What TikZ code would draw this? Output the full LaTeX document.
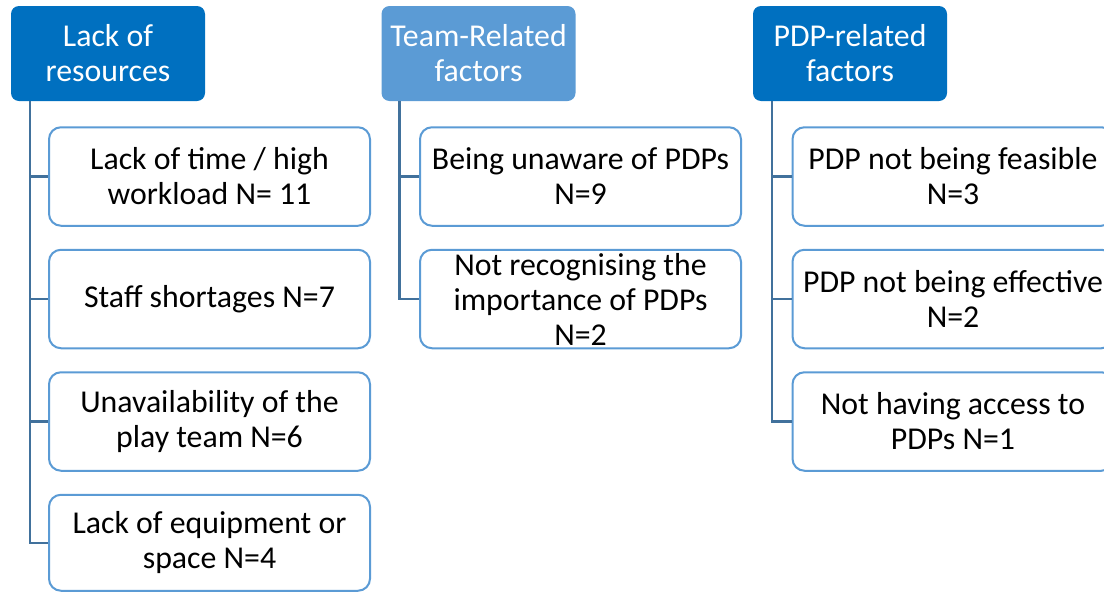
\documentclass[tikz,border=0pt]{standalone}
\usepackage{fontspec}
\setmainfont{Carlito}
\usepackage{tikz}
\usetikzlibrary{positioning}
\definecolor{hdrblue}{RGB}{0,112,192}
\definecolor{hdrlight}{RGB}{91,155,213}
\definecolor{boxline}{RGB}{91,155,213}
\definecolor{linkblue}{RGB}{65,113,156}

\begin{document}
\begin{tikzpicture}[x=1pt, y=1pt, node distance=22pt]
\tikzstyle{header} = [rectangle, rounded corners=8pt, minimum width=194pt, minimum height=95pt, inner sep=1pt, text centered, align=center, fill=hdrblue, text=white, font=\fontsize{31.8}{35}\selectfont]
\tikzstyle{factor} = [rectangle, rounded corners=12pt, minimum width=321pt, minimum height=98.5pt, inner sep=1pt, text centered, align=center, draw=boxline, line width=2pt, fill=white, font=\fontsize{31.8}{35}\selectfont]
\tikzstyle{link} = [draw=linkblue, line width=2.5pt]

\useasboundingbox (0,0) rectangle (1104,-592);

% lack of resources
\node (Resources) [header] at (108,-53.5) {Lack of\\resources};
\node (Time) [factor] at (209.5,-176.5) {Lack of time / high\\workload N= 11};
\node (Staff) [factor, below=of Time] {Staff shortages N=7};
\node (PlayTeam) [factor, below=of Staff] {Unavailability of the\\play team N=6};
\node (Equipment) [factor, below=of PlayTeam, minimum height=96pt] {Lack of equipment or\\space N=4};

% team related
\node (TeamRel) [header, fill=hdrlight] at (478.5,-53.5) {Team-Related\\factors};
\node (Unaware) [factor] at (580.5,-176.5) {Being unaware of PDPs\\N=9};
\node (Importance) [factor, below=of Unaware] {Not recognising the\\importance of PDPs\\N=2};

% pdp related
\node (PDPRel) [header] at (850,-53.5) {PDP-related\\factors};
\node (Feasible) [factor] at (953,-176.5) {PDP not being feasible\\N=3};
\node (Effective) [factor, below=of Feasible] {PDP not being effective\\N=2};
\node (Access) [factor, below=of Effective] {Not having access to\\PDPs N=1};

\draw [link] ([xshift=19pt]Resources.south west) |- (Time.west);
\draw [link] ([xshift=19pt]Resources.south west) |- (Staff.west);
\draw [link] ([xshift=19pt]Resources.south west) |- (PlayTeam.west);
\draw [link] ([xshift=19pt]Resources.south west) |- (Equipment.west);

\draw [link] ([xshift=18pt]TeamRel.south west) |- (Unaware.west);
\draw [link] ([xshift=18pt]TeamRel.south west) |- (Importance.west);

\draw [link] ([xshift=19pt]PDPRel.south west) |- (Feasible.west);
\draw [link] ([xshift=19pt]PDPRel.south west) |- (Effective.west);
\draw [link] ([xshift=19pt]PDPRel.south west) |- (Access.west);
\end{tikzpicture}
\end{document}
